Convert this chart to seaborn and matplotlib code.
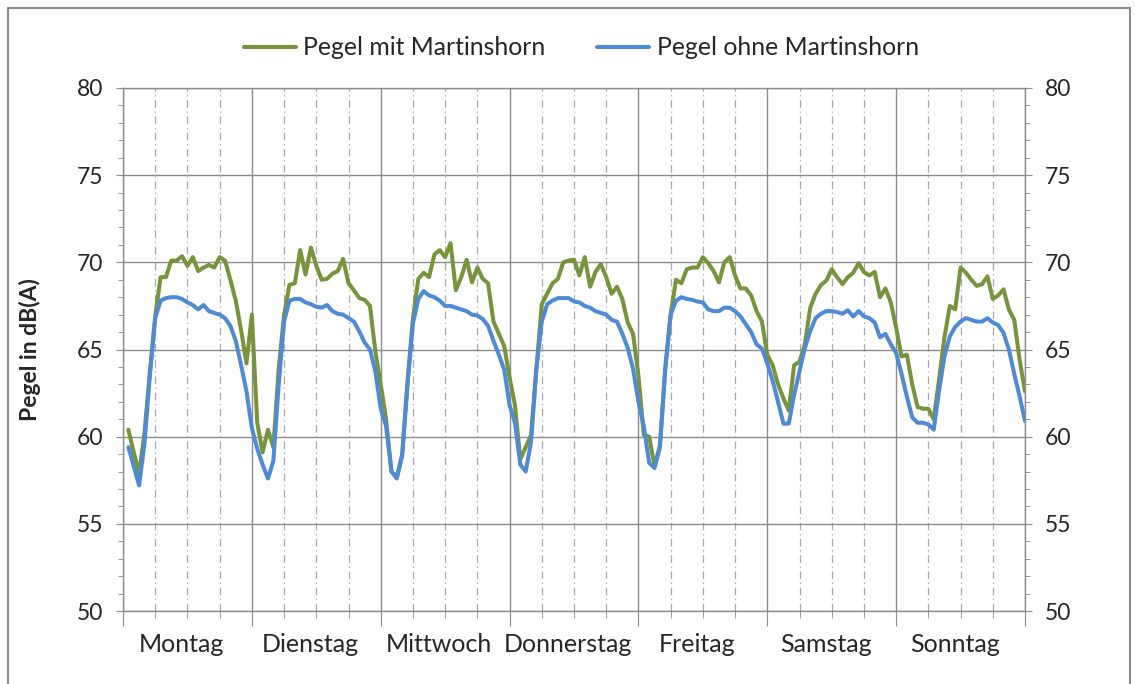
import matplotlib
matplotlib.use("Agg")
import matplotlib.pyplot as plt
import numpy as np
import pandas as pd
import seaborn as sns
from matplotlib.patches import Rectangle
from matplotlib.ticker import MultipleLocator
from matplotlib.transforms import ScaledTranslation

days = ["Montag", "Dienstag", "Mittwoch", "Donnerstag", "Freitag", "Samstag", "Sonntag"]
hours_per_day = 24
y_ticks = [50, 55, 60, 65, 70, 75, 80]
series_names = ["Pegel mit Martinshorn", "Pegel ohne Martinshorn"]

# hourly levels in dB(A), one row per weekday (hour 1 .. 24)
mit_martinshorn = [
    60.4, 59.1, 57.9, 60.2, 63.7, 66.9, 69.15, 69.15, 70.1, 70.1, 70.35, 69.8, 70.3, 69.5, 69.7, 69.85, 69.7, 70.3, 70.1, 69.0, 67.8, 66.1, 64.2, 67.0,
    60.8, 59.1, 60.4, 59.4, 63.9, 67.0, 68.7, 68.8, 70.7, 69.3, 70.85, 69.8, 69.0, 69.05, 69.35, 69.5, 70.2, 68.8, 68.4, 67.95, 67.85, 67.5, 64.9, 63.0,
    61.0, 58.0, 57.7, 59.0, 63.2, 66.8, 69.05, 69.4, 69.15, 70.45, 70.7, 70.3, 71.1, 68.4, 69.15, 70.15, 68.85, 69.7, 69.05, 68.8, 66.6, 65.9, 65.2, 63.4,
    61.8, 58.7, 59.4, 60.1, 63.9, 67.6, 68.2, 68.8, 69.05, 70.0, 70.1, 70.15, 69.25, 70.3, 68.6, 69.45, 69.9, 69.15, 68.2, 68.6, 67.9, 66.55, 65.9, 63.5,
    60.1, 60.0, 58.3, 59.5, 63.9, 67.0, 69.0, 68.8, 69.6, 69.7, 69.7, 70.3, 69.95, 69.5, 68.85, 70.0, 70.3, 69.25, 68.5, 68.5, 68.1, 67.2, 66.6, 64.7,
    64.1, 63.0, 62.2, 61.5, 64.1, 64.3, 65.3, 67.4, 68.2, 68.7, 68.95, 69.6, 69.15, 68.75, 69.15, 69.4, 69.95, 69.45, 69.25, 69.45, 68.0, 68.5, 67.7, 66.25,
    64.6, 64.7, 63.0, 61.7, 61.6, 61.6, 61.0, 63.3, 65.7, 67.5, 67.3, 69.7, 69.4, 69.0, 68.65, 68.75, 69.2, 67.9, 68.1, 68.45, 67.3, 66.7, 64.4, 62.6,
]
ohne_martinshorn = [
    59.4, 58.3, 57.2, 59.6, 63.5, 66.8, 67.8, 67.95, 68.0, 68.0, 67.9, 67.7, 67.55, 67.3, 67.55, 67.2, 67.1, 67.0, 66.8, 66.35, 65.5, 64.1, 62.6, 60.5,
    59.3, 58.4, 57.6, 58.6, 63.0, 66.6, 67.8, 67.9, 67.9, 67.7, 67.6, 67.45, 67.4, 67.55, 67.2, 67.05, 67.0, 66.8, 66.6, 66.05, 65.4, 65.0, 63.75, 61.6,
    60.6, 58.0, 57.6, 58.9, 63.0, 66.5, 67.9, 68.35, 68.1, 68.0, 67.8, 67.5, 67.5, 67.4, 67.3, 67.2, 67.0, 66.95, 66.75, 66.35, 65.5, 64.7, 63.85, 61.8,
    60.8, 58.4, 58.0, 59.7, 63.9, 66.6, 67.6, 67.8, 67.95, 67.95, 67.95, 67.75, 67.7, 67.5, 67.4, 67.2, 67.1, 67.0, 66.7, 66.6, 65.9, 65.1, 63.9, 62.0,
    60.6, 58.5, 58.2, 59.4, 63.9, 67.0, 67.8, 68.0, 67.9, 67.85, 67.75, 67.7, 67.3, 67.2, 67.2, 67.4, 67.4, 67.2, 66.9, 66.45, 66.0, 65.3, 65.05, 64.2,
    63.2, 62.0, 60.75, 60.75, 62.4, 63.75, 65.1, 66.05, 66.8, 67.05, 67.2, 67.2, 67.15, 67.05, 67.25, 66.9, 67.2, 66.9, 66.8, 66.55, 65.7, 65.9, 65.3, 64.8,
    63.6, 62.3, 61.1, 60.8, 60.8, 60.7, 60.4, 62.65, 64.6, 65.75, 66.3, 66.6, 66.8, 66.7, 66.6, 66.6, 66.8, 66.55, 66.4, 65.95, 65.0, 63.6, 62.3, 60.9,
]

green = "#77933C"
blue = "#4F8AD4"
grid_grey = "#8C8C8C"
dash_grey = "#A8A8A8"

n_hours = hours_per_day * len(days)
hour = np.arange(1, n_hours + 1)
frame = pd.DataFrame({
    "hour": np.concatenate([hour, hour]),
    "pegel": mit_martinshorn + ohne_martinshorn,
    "serie": [series_names[0]] * n_hours + [series_names[1]] * n_hours,
})

sns.set_style("white")
plt.rcParams["font.family"] = ["Lato", "DejaVu Sans"]

fig = plt.figure(figsize=(11.35, 6.84), dpi=100)
ax = fig.add_axes([123 / 1135, 1 - 611 / 684, (1025 - 123) / 1135, (611 - 88) / 684])

# grid: solid at day boundaries and every 5 dB, dash-dot every 6 hours
for h in range(0, n_hours + 1, 6):
    if h % hours_per_day == 0:
        ax.axvline(h, color=grid_grey, lw=1.0, zorder=1)
    else:
        ax.axvline(h, color=dash_grey, lw=0.9, ls=(0, (6, 3, 1, 3)), zorder=1)
for v in y_ticks:
    ax.axhline(v, color=grid_grey, lw=1.0, zorder=1)

sns.lineplot(
    data=frame, x="hour", y="pegel", hue="serie",
    palette={series_names[0]: green, series_names[1]: blue},
    linewidth=2.9, ax=ax, zorder=3,
)

ax.set_xlim(0, n_hours)
ax.set_ylim(50, 80)
ax.set_xlabel("")
ax.set_ylabel("")

for side in ["left", "right", "bottom", "top"]:
    ax.spines[side].set_color(grid_grey)
    ax.spines[side].set_linewidth(1.0)

ax.set_yticks(y_ticks)
ax.yaxis.set_minor_locator(MultipleLocator(1))
ax.tick_params(axis="y", which="both", direction="out", left=True, right=True,
               labelleft=True, labelright=True, color=grid_grey, labelsize=16.5, pad=9)
ax.tick_params(axis="y", which="major", length=5)
ax.tick_params(axis="y", which="minor", length=3.5)

ax.set_xticks([hours_per_day * i + hours_per_day / 2 for i in range(len(days))])
ax.set_xticklabels(days)
ax.xaxis.remove_overlapping_locs = False
ax.xaxis.set_minor_locator(MultipleLocator(6))
ax.tick_params(axis="x", which="major", length=0, pad=16, labelsize=18)
ax.tick_params(axis="x", which="minor", direction="out", length=5, color=grid_grey, bottom=True)
shift = ScaledTranslation(-6 / 100, 0, fig.dpi_scale_trans)
for label in ax.get_xticklabels():
    label.set_transform(label.get_transform() + shift)

sec = ax.secondary_xaxis("bottom")
sec.set_xticks(range(0, n_hours + 1, hours_per_day))
sec.tick_params(axis="x", direction="out", length=11, color=grid_grey, labelbottom=False)
sec.spines["bottom"].set_visible(False)

sns.move_legend(ax, "center", bbox_to_anchor=(0.508, 1.077), ncol=2, frameon=False,
                title=None, fontsize=17.8, handlelength=2.1, columnspacing=2.1, handletextpad=0.3)

fig.text(30 / 1135, 1 - 350 / 684, "Pegel in dB(A)", rotation=90, ha="center", va="center",
         fontsize=16.5, fontweight="bold")

fig.patches.append(Rectangle((8 / 1135, -0.05), (1130 - 8) / 1135, 1.05 - 8 / 684,
                             transform=fig.transFigure, fill=False, edgecolor="#8C8C8C", lw=1.5))

fig.savefig("out.png", dpi=100)
